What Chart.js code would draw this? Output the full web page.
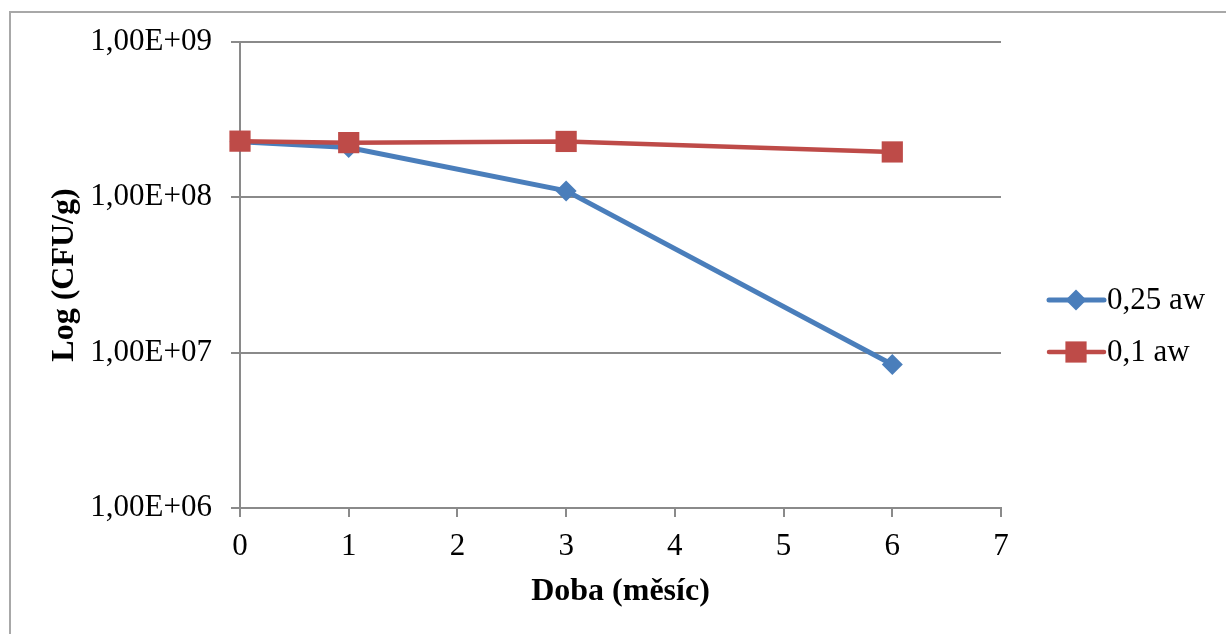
<!DOCTYPE html>
<html><head><meta charset="utf-8">
<script src="https://cdn.jsdelivr.net/npm/chart.js@4/dist/chart.umd.min.js"></script>
<style>
html,body{margin:0;padding:0;background:#fff;overflow:hidden}
#wrap{position:relative;width:1226px;height:634px;overflow:hidden}
#frame{position:absolute;left:9px;top:11px;width:1300px;height:700px;border-left:2px solid #a8a8a8;border-top:2px solid #a8a8a8}
canvas{position:absolute;left:0;top:0}
</style></head><body>
<div id="wrap"><div id="frame"></div><canvas id="c" width="1226" height="634"></canvas></div>
<script>
const months = [0, 1, 3, 6];
const seriesNames = ['0,25 aw', '0,1 aw'];
const aw025 = [2.28e8, 2.09e8, 1.10e8, 8.4e6];
const aw01 = [2.30e8, 2.25e8, 2.29e8, 1.96e8];
const yTickValues = [1e6, 1e7, 1e8, 1e9];
const yTickLabels = ['1,00E+06', '1,00E+07', '1,00E+08', '1,00E+09'];
const xTickValues = [0, 1, 2, 3, 4, 5, 6, 7];
const xTitle = 'Doba (měsíc)';
const yTitle = 'Log (CFU/g)';

const BLUE = '#4A7EBB', RED = '#BE4B48', GRID = '#8a8a8a';
const FONT = 'Liberation Serif, Times New Roman, serif';

function drawMarker(ctx, style, x, y, r, color) {
  ctx.save();
  ctx.fillStyle = color;
  ctx.beginPath();
  if (style === 'rectRot') {
    ctx.moveTo(x - r, y); ctx.lineTo(x, y - r); ctx.lineTo(x + r, y); ctx.lineTo(x, y + r);
  } else {
    const s = r * Math.SQRT1_2;
    ctx.rect(x - s, y - s, 2 * s, 2 * s);
  }
  ctx.closePath();
  ctx.fill();
  ctx.restore();
}

const legendPlugin = {
  id: 'customLegend',
  afterDraw(chart) {
    const ctx = chart.ctx;
    const x0 = chart.chartArea.right + 48;
    const yc = chart.height / 2 - 17;
    chart.data.datasets.forEach((ds, i) => {
      const y = yc + i * 52;
      ctx.save();
      ctx.strokeStyle = ds.borderColor;
      ctx.lineWidth = ds.borderWidth;
      ctx.lineCap = 'round';
      ctx.beginPath(); ctx.moveTo(x0, y); ctx.lineTo(x0 + 55, y); ctx.stroke();
      drawMarker(ctx, ds.pointStyle, x0 + 27, y, ds.pointRadius, ds.pointBackgroundColor);
      ctx.fillStyle = '#000';
      ctx.font = '31px ' + FONT;
      ctx.textBaseline = 'middle';
      ctx.textAlign = 'left';
      ctx.fillText(ds.label, x0 + 58, y + 1);
      ctx.restore();
    });
  }
};

new Chart(document.getElementById('c'), {
  type: 'line',
  data: {
    datasets: [
      { label: seriesNames[0], data: months.map((m, i) => ({x: m, y: aw025[i]})),
        borderColor: BLUE, backgroundColor: BLUE, pointBackgroundColor: BLUE, pointBorderColor: BLUE,
        borderWidth: 5, pointStyle: 'rectRot', pointRadius: 10.5, pointBorderWidth: 0, pointHoverRadius: 10.5,
        tension: 0, clip: false, order: 1 },
      { label: seriesNames[1], data: months.map((m, i) => ({x: m, y: aw01[i]})),
        borderColor: RED, backgroundColor: RED, pointBackgroundColor: RED, pointBorderColor: RED,
        borderWidth: 4.5, pointStyle: 'rect', pointRadius: 15, pointBorderWidth: 0, pointHoverRadius: 15,
        tension: 0, clip: false, order: 0 }
    ]
  },
  options: {
    responsive: false,
    animation: false,
    devicePixelRatio: 1,
    layout: { padding: { left: 0, top: 42, right: 225, bottom: 0 } },
    plugins: { legend: { display: false }, tooltip: { enabled: false } },
    scales: {
      x: {
        type: 'linear', min: 0, max: 7,
        afterBuildTicks: (s) => { s.ticks = xTickValues.map(v => ({value: v})); },
        afterFit: (s) => { s.height = 126; },
        ticks: { font: { family: FONT, size: 31 }, color: '#000', padding: 11, maxRotation: 0, autoSkip: false },
        grid: { drawOnChartArea: false, drawTicks: true, tickLength: 9, color: GRID, lineWidth: 2 },
        border: { display: true, color: GRID, width: 2 },
        title: { display: true, text: xTitle, color: '#000', font: { family: FONT, size: 32, weight: 'bold' }, padding: { top: 0, bottom: 23 } }
      },
      y: {
        type: 'logarithmic', min: 1e6, max: 1e9,
        afterBuildTicks: (s) => { s.ticks = yTickValues.map(v => ({value: v})); },
        afterFit: (s) => { s.width = 240; },
        ticks: { font: { family: FONT, size: 31 }, color: '#000', padding: 19, autoSkip: false,
          callback: (v, i) => yTickLabels[i] },
        grid: { drawOnChartArea: true, drawTicks: true, tickLength: 9, color: GRID, lineWidth: 2 },
        border: { display: true, color: GRID, width: 2 },
        title: { display: true, text: yTitle, color: '#000', font: { family: FONT, size: 32, weight: 'bold' }, padding: { top: 46, bottom: 0 } }
      }
    }
  },
  plugins: [legendPlugin]
});
</script>
</body></html>
